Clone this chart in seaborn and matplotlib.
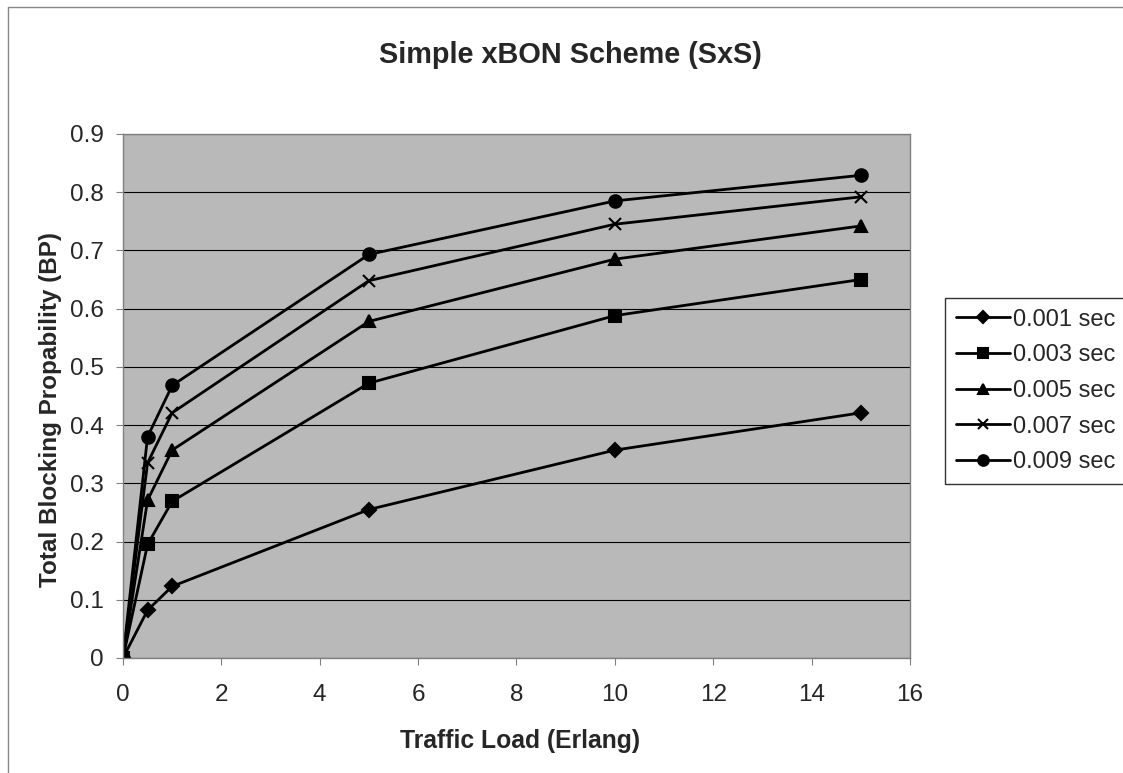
import matplotlib
matplotlib.use("Agg")
import matplotlib.pyplot as plt
import seaborn as sns
import pandas as pd
from matplotlib.lines import Line2D

loads = [0, 0.5, 1, 5, 10, 15]
series_names = ["0.001 sec", "0.003 sec", "0.005 sec", "0.007 sec", "0.009 sec"]
bp_0001 = [0, 0.082, 0.123, 0.255, 0.357, 0.421]
bp_0003 = [0, 0.195, 0.269, 0.472, 0.588, 0.650]
bp_0005 = [0, 0.271, 0.357, 0.578, 0.685, 0.742]
bp_0007 = [0, 0.335, 0.421, 0.648, 0.745, 0.792]
bp_0009 = [0, 0.380, 0.468, 0.693, 0.785, 0.829]
all_vals = [bp_0001, bp_0003, bp_0005, bp_0007, bp_0009]

rows = []
for name, vals in zip(series_names, all_vals):
    for x, y in zip(loads, vals):
        rows.append({"load": x, "bp": y, "series": name})
df = pd.DataFrame(rows)

sns.set_style("white")
plt.rcParams["font.family"] = ["Liberation Sans", "DejaVu Sans"]

fig = plt.figure(figsize=(11.23, 7.73), dpi=100)
ax = fig.add_axes([0.1095, 0.1488, 0.7008, 0.6779])
ax.set_facecolor("#b9b9b9")

markers = {"0.001 sec": "D", "0.003 sec": "s", "0.005 sec": "^", "0.007 sec": "x", "0.009 sec": "o"}
sizes = {"0.001 sec": 7, "0.003 sec": 8, "0.005 sec": 9, "0.007 sec": 9, "0.009 sec": 9}
for name in series_names:
    sub = df[df["series"] == name]
    sns.lineplot(data=sub, x="load", y="bp", ax=ax, color="black", linewidth=2,
                 marker=markers[name], markersize=sizes[name], markeredgecolor="black",
                 markerfacecolor="black", markeredgewidth=1.5, label=name)

ax.set_xlim(0, 16)
ax.set_ylim(0, 0.9)
ax.set_xticks(range(0, 17, 2))
ax.set_yticks([i / 10 for i in range(10)])
ax.set_yticklabels(["0"] + [f"{i/10:.1f}" for i in range(1, 10)])
ax.yaxis.grid(True, color="black", linewidth=0.8)
ax.xaxis.grid(False)
ax.set_axisbelow(True)
for s in ax.spines.values():
    s.set_color("#808080")
    s.set_linewidth(1)
ax.tick_params(axis="both", labelsize=17.5, length=5, color="#808080", direction="out")
ax.tick_params(axis="y", pad=9)
ax.tick_params(axis="x", pad=14)
ax.tick_params(axis="both", bottom=True, left=True)

ax.set_xlabel("Traffic Load (Erlang)", fontsize=17.8, fontweight="bold")
ax.set_ylabel("Total Blocking Propability (BP)", fontsize=17.5, fontweight="bold")
ax.xaxis.set_label_coords(0.505, -0.136)
ax.yaxis.set_label_coords(-0.077, 0.475)
fig.text(0.5076, 0.929, "Simple xBON Scheme (SxS)", ha="center", va="center",
         fontsize=20.8, fontweight="bold")

leg = ax.legend(loc="upper left", bbox_to_anchor=(945 / 1123, 1 - 298 / 773),
                bbox_transform=fig.transFigure, borderaxespad=0, frameon=True,
                fancybox=False, fontsize=17, handlelength=2.3, borderpad=0.45,
                labelspacing=0.58, handletextpad=0.15, edgecolor="black", markerscale=0.85)
leg.get_frame().set_linewidth(1)

fig.add_artist(Line2D([7.5 / 1123, 7.5 / 1123], [0, 1 - 7 / 773], transform=fig.transFigure,
                      color="#888888", linewidth=1))
fig.add_artist(Line2D([7.5 / 1123, 1], [1 - 7 / 773, 1 - 7 / 773], transform=fig.transFigure,
                      color="#888888", linewidth=1))

fig.savefig("out.png", dpi=100)
